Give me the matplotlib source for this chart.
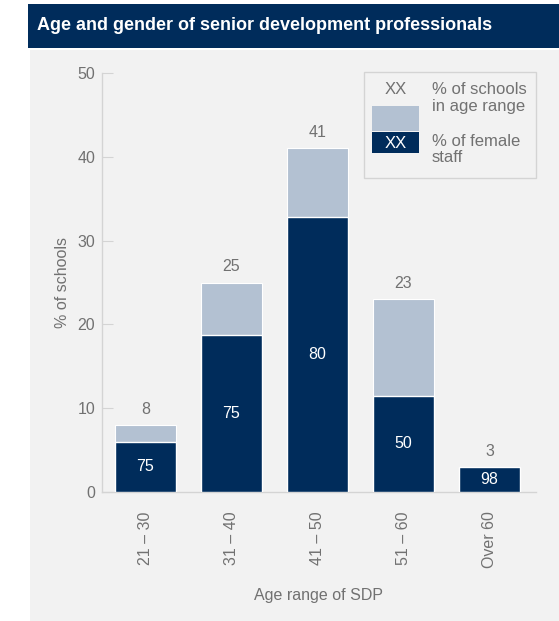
import numpy as np
import matplotlib.pyplot as plt
from matplotlib.patches import Rectangle

plt.rcParams['font.family'] = ['Liberation Sans', 'DejaVu Sans']

# data
ages = ["21 – 30", "31 – 40", "41 – 50", "51 – 60", "Over 60"]
pct_schools = [8, 25, 41, 23, 3]
pct_female = [75, 75, 80, 50, 98]

navy = "#002c5b"
light = "#b3c1d2"
bg = "#f2f2f2"
grey = "#717171"
line = "#d4d4d4"

W, H = 559, 621
fig = plt.figure(figsize=(W / 100, H / 100), dpi=100)
fig.patch.set_facecolor("white")

def fx(x):
    return x / W

def fy(y):
    return 1 - y / H

# background panel and title bar
fig.patches.append(Rectangle((fx(30), 0), fx(W - 30), fy(50), transform=fig.transFigure,
                             facecolor=bg, edgecolor="none", zorder=-2))
fig.patches.append(Rectangle((fx(28), fy(48)), fx(W - 28), fy(4) - fy(48), transform=fig.transFigure,
                             facecolor=navy, edgecolor="none", zorder=-2))
fig.text(fx(37), fy(26), "Age and gender of senior development professionals",
         color="white", fontsize=13.0, fontweight="bold", va="center", ha="left")

ax = fig.add_axes([fx(102), fy(492), fx(536) - fx(102), fy(73) - fy(492)])
ax.set_facecolor(bg)
ax.set_zorder(1)

x = np.arange(len(ages))
total = np.array(pct_schools, dtype=float)
female = total * np.array(pct_female) / 100.0
w = 0.71

ax.bar(x, total, width=w, color=light, edgecolor="white", linewidth=0.8, zorder=2)
ax.bar(x, female, width=w, color=navy, edgecolor="white", linewidth=1.0, zorder=3)

for xi, t, f, p in zip(x, total, female, pct_female):
    ax.annotate(str(int(t)), (xi, t), xytext=(0, 6), textcoords="offset points",
                ha="center", va="bottom", color=grey, fontsize=11.5)
    ax.text(xi, f / 2, str(p), ha="center", va="center", color="white", fontsize=11.5, zorder=4)

ax.set_xlim(-0.505, 4.54)
ax.set_ylim(0, 50)
ax.set_yticks([0, 10, 20, 30, 40, 50])
ax.set_xticks(x)
ax.set_xticklabels(ages, rotation=90)
ax.tick_params(axis="y", direction="in", length=8, width=0.8, colors=grey,
               labelsize=11.5, pad=5)
ax.tick_params(axis="y", color=line)
ax.tick_params(axis="x", length=0, colors=grey, labelsize=11.5, pad=14)
for s in ["top", "right"]:
    ax.spines[s].set_visible(False)
for s in ["left", "bottom"]:
    ax.spines[s].set_color(line)
    ax.spines[s].set_linewidth(1.0)

ax.set_ylabel("% of schools", color=grey, fontsize=11.5, labelpad=5)
ax.set_xlabel("Age range of SDP", color=grey, fontsize=11.5, labelpad=14)

# legend drawn as a small sample bar
fig.patches.append(Rectangle((fx(364), fy(178)), fx(536) - fx(364), fy(72) - fy(178),
                             transform=fig.transFigure, facecolor=bg, edgecolor=line,
                             linewidth=1.0, zorder=5))
fig.patches.append(Rectangle((fx(372), fy(131)), fx(47), fy(106) - fy(131),
                             transform=fig.transFigure, facecolor=light, edgecolor="none", zorder=6))
fig.patches.append(Rectangle((fx(372), fy(153)), fx(47), fy(132) - fy(153),
                             transform=fig.transFigure, facecolor=navy, edgecolor="none", zorder=6))
fig.text(fx(395.5), fy(90), "XX", color=grey, fontsize=12, ha="center", va="center", zorder=7)
fig.text(fx(395.5), fy(143), "XX", color="white", fontsize=12, ha="center", va="center", zorder=7)
for txt, yy in [("% of schools", 90), ("in age range", 107), ("% of female", 142), ("staff", 158)]:
    fig.text(fx(432), fy(yy), txt, color=grey, fontsize=12, ha="left", va="center", zorder=7)

fig.savefig("out.png", dpi=100)
